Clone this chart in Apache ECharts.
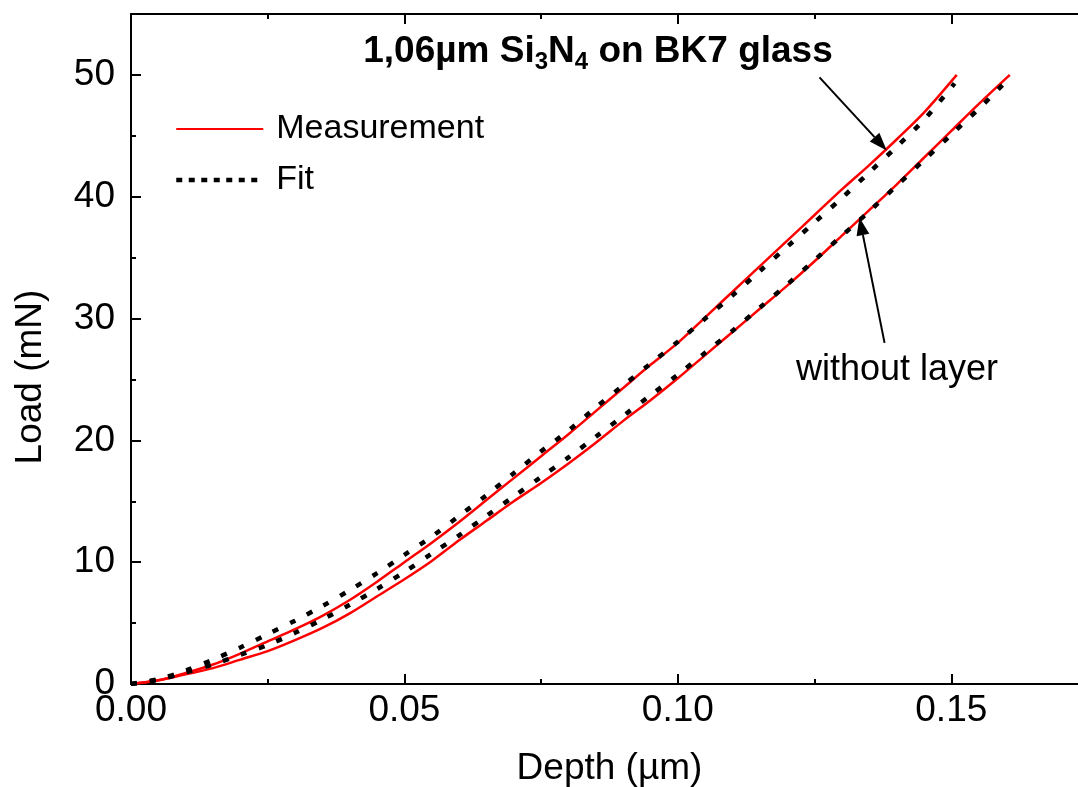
<!DOCTYPE html>
<html><head><meta charset="utf-8">
<script src="https://cdn.jsdelivr.net/npm/echarts@6/dist/echarts.min.js"></script>
<style>html,body{margin:0;padding:0;background:#fff}#c{width:1078px;height:787px}</style>
</head><body><div id="c"></div>
<script>
// ---- data (Depth in µm, Load in mN) ----
const depthLayerMeas = [0,0.005,0.01,0.015,0.02,0.025,0.03,0.035,0.04,0.045,0.05,0.055,0.06,0.065,0.07,0.075,0.08,0.085,0.09,0.095,0.1,0.105,0.11,0.115,0.12,0.125,0.13,0.135,0.14,0.145,0.151];
const loadLayerMeas  = [0,0.3,0.9,1.6,2.5,3.5,4.5,5.6,6.9,8.4,10.0,11.6,13.3,15.1,16.9,18.7,20.5,22.4,24.3,26.2,28.0,30.1,32.2,34.3,36.4,38.5,40.6,42.6,44.7,46.9,50.0];
const depthLayerFit  = [0,0.005,0.01,0.015,0.02,0.025,0.03,0.035,0.04,0.045,0.05,0.055,0.06,0.065,0.07,0.075,0.08,0.085,0.09,0.095,0.1,0.105,0.11,0.115,0.12,0.125,0.13,0.135,0.14,0.145,0.1506];
const loadLayerFit   = [0,0.4,1.1,2.0,3.0,4.1,5.2,6.4,7.7,9.1,10.6,12.1,13.8,15.5,17.3,19.1,20.8,22.7,24.5,26.3,28.1,30.0,31.9,33.9,35.9,37.9,39.9,42.0,44.1,46.3,49.3];
const depthBareMeas  = [0,0.005,0.01,0.015,0.02,0.025,0.03,0.035,0.04,0.045,0.05,0.055,0.06,0.065,0.07,0.075,0.08,0.085,0.09,0.095,0.1,0.105,0.11,0.115,0.12,0.125,0.13,0.135,0.14,0.145,0.15,0.155,0.1607];
const loadBareMeas   = [0,0.3,0.8,1.3,2.0,2.7,3.6,4.6,5.8,7.2,8.6,10.1,11.8,13.4,15.0,16.5,18.1,19.8,21.6,23.3,25.1,27.0,28.9,30.8,32.7,34.7,36.8,38.9,41.0,43.2,45.4,47.6,50.0];
const depthBareFit   = [0,0.005,0.01,0.015,0.02,0.025,0.03,0.035,0.04,0.045,0.05,0.055,0.06,0.065,0.07,0.075,0.08,0.085,0.09,0.095,0.1,0.105,0.11,0.115,0.12,0.125,0.13,0.135,0.14,0.145,0.15,0.155,0.1603];
const loadBareFit    = [0,0.35,0.95,1.6,2.4,3.2,4.2,5.3,6.5,7.8,9.2,10.7,12.2,13.8,15.4,17.0,18.6,20.3,22.0,23.7,25.4,27.2,29.0,30.9,32.8,34.8,36.8,38.8,40.9,43.0,45.1,47.2,49.6];

const xTickLabels = ['0.00','0.05','0.10','0.15'];
const yTickLabels = ['0','10','20','30','40','50'];
const legendNames = ['Measurement','Fit'];
const xTitle = 'Depth (µm)';
const yTitle = 'Load (mN)';
const annoLayer = '1,06µm Si3N4 on BK7 glass';
const annoBare = 'without layer';
// arrows in data coords: [from, to]
const arrowLayer = [[0.1259, 49.8], [0.1382, 43.8]];
const arrowBare  = [[0.1378, 28.0], [0.1332, 38.3]];

const FONT = "'Liberation Sans', Arial, Helvetica, sans-serif";
const pair = (xs, ys) => xs.map((x, i) => [x, ys[i]]);

const chart = echarts.init(document.getElementById('c'), null, {renderer: 'canvas'});
const G = {left: 131, top: 14, width: 957, height: 670, containLabel: false, outerBoundsMode: 'none'};

function xAx(grid, pos, interval, len, withLabel, showLine) {
  return {
    type: 'value', gridIndex: grid, position: pos, min: 0, max: 0.175, interval: interval,
    axisLine: {show: showLine, onZero: false, lineStyle: {color: '#000', width: 2}},
    axisTick: {show: true, inside: true, length: len, lineStyle: {color: '#000', width: 2}},
    splitLine: {show: false},
    axisLabel: withLabel ? {
      show: true, margin: 8, fontSize: 37, color: '#000', fontFamily: FONT,
      formatter: v => { const s = v.toFixed(2); return xTickLabels.indexOf(s) >= 0 ? s : ''; }
    } : {show: false},
    name: withLabel ? xTitle : '', nameLocation: 'middle', nameGap: 66,
    nameTextStyle: {fontSize: 37, color: '#000', fontFamily: FONT}
  };
}
function yAx(grid, pos, interval, len, withLabel, showLine) {
  return {
    type: 'value', gridIndex: grid, position: pos, min: 0, max: 55, interval: interval,
    axisLine: {show: showLine, onZero: false, lineStyle: {color: '#000', width: 2}},
    axisTick: {show: true, inside: true, length: len, lineStyle: {color: '#000', width: 2}},
    splitLine: {show: false},
    axisLabel: withLabel ? {
      show: true, margin: 16, fontSize: 37, color: '#000', fontFamily: FONT,
      formatter: v => { const s = String(Math.round(v)); return (yTickLabels.indexOf(s) >= 0 && Math.abs(v - Math.round(v)) < 1e-9) ? s : ''; }
    } : {show: false}
  };
}

chart.setOption({
  animation: false,
  backgroundColor: '#fff',
  grid: [Object.assign({}, G), Object.assign({}, G)],
  xAxis: [
    xAx(0, 'bottom', 0.05, 10, true, true),
    xAx(0, 'top', 0.05, 10, false, true),
    xAx(1, 'bottom', 0.025, 5, false, false),
    xAx(1, 'top', 0.025, 5, false, false)
  ],
  yAxis: [
    yAx(0, 'left', 10, 10, true, true),
    yAx(0, 'right', 10, 10, false, true),
    yAx(1, 'left', 5, 5, false, false),
    yAx(1, 'right', 5, 5, false, false)
  ],
  legend: {
    orient: 'vertical', left: 169, top: 104, itemWidth: 87, itemHeight: 2, itemGap: 11,
    selectedMode: false,
    itemStyle: {opacity: 0},
    data: [
      {name: legendNames[0], lineStyle: {width: 2, color: '#ff0000'}},
      {name: legendNames[1], lineStyle: {width: 4.5, color: '#000', type: [6, 6.5], cap: 'butt'}}
    ],
    textStyle: {fontSize: 34, color: '#000', fontFamily: FONT, padding: [0, 0, 0, 8], lineHeight: 40}
  },
  series: [
    {name: legendNames[0], type: 'line', xAxisIndex: 0, yAxisIndex: 0, data: pair(depthLayerMeas, loadLayerMeas),
     symbol: 'none', smooth: 0.3, lineStyle: {color: '#ff0000', width: 2.5}, itemStyle: {color: '#ff0000'}, z: 2},
    {name: legendNames[0], type: 'line', xAxisIndex: 0, yAxisIndex: 0, data: pair(depthBareMeas, loadBareMeas),
     symbol: 'none', smooth: 0.3, lineStyle: {color: '#ff0000', width: 2.5}, itemStyle: {color: '#ff0000'}, z: 2},
    {name: legendNames[1], type: 'line', xAxisIndex: 0, yAxisIndex: 0, data: pair(depthLayerFit, loadLayerFit),
     symbol: 'none', smooth: 0.3, lineStyle: {color: '#000', width: 4.5, type: [6, 13], cap: 'butt'}, itemStyle: {color: '#000'}, z: 3},
    {name: legendNames[1], type: 'line', xAxisIndex: 0, yAxisIndex: 0, data: pair(depthBareFit, loadBareFit),
     symbol: 'none', smooth: 0.3, lineStyle: {color: '#000', width: 4.5, type: [6, 13], cap: 'butt'}, itemStyle: {color: '#000'}, z: 3}
  ]
});

function arrow(a) {
  const p0 = chart.convertToPixel({gridIndex: 0}, a[0]);
  const p1 = chart.convertToPixel({gridIndex: 0}, a[1]);
  const dx = p1[0] - p0[0], dy = p1[1] - p0[1];
  const L = Math.hypot(dx, dy), ux = dx / L, uy = dy / L;
  const hl = 18, hw = 6.5;
  const bx = p1[0] - ux * hl, by = p1[1] - uy * hl;
  return [
    {type: 'line', shape: {x1: p0[0], y1: p0[1], x2: bx, y2: by}, style: {stroke: '#000', lineWidth: 2}, z: 10},
    {type: 'polygon', shape: {points: [[p1[0], p1[1]], [bx - uy * hw, by + ux * hw], [bx + uy * hw, by - ux * hw]]},
     style: {fill: '#000'}, z: 10}
  ];
}

const parts = annoLayer.match(/^(.*Si)3N4(.*)$/);
chart.setOption({
  graphic: [
    {type: 'text', x: 598, y: 52, z: 10,
     style: {
       text: '{b|' + parts[1] + '}{s|3}{b|N}{s|4}{b|' + parts[2] + '}',
       align: 'center', verticalAlign: 'middle',
       rich: {
         b: {fontSize: 37, fontWeight: 'bold', fontFamily: FONT, fill: '#000', lineHeight: 44},
         s: {fontSize: 24, fontWeight: 'bold', fontFamily: FONT, fill: '#000', verticalAlign: 'bottom', lineHeight: 24}
       }
     }},
    {type: 'text', x: 897, y: 370, z: 10,
     style: {text: annoBare, align: 'center', verticalAlign: 'middle', fontSize: 36, fontFamily: FONT, fill: '#000'}},
    {type: 'text', x: 31, y: 377, rotation: Math.PI / 2, z: 10,
     style: {text: yTitle, align: 'center', verticalAlign: 'middle', fontSize: 37, fontFamily: FONT, fill: '#000'}}
  ].concat(arrow(arrowLayer), arrow(arrowBare))
});
</script>
</body></html>
